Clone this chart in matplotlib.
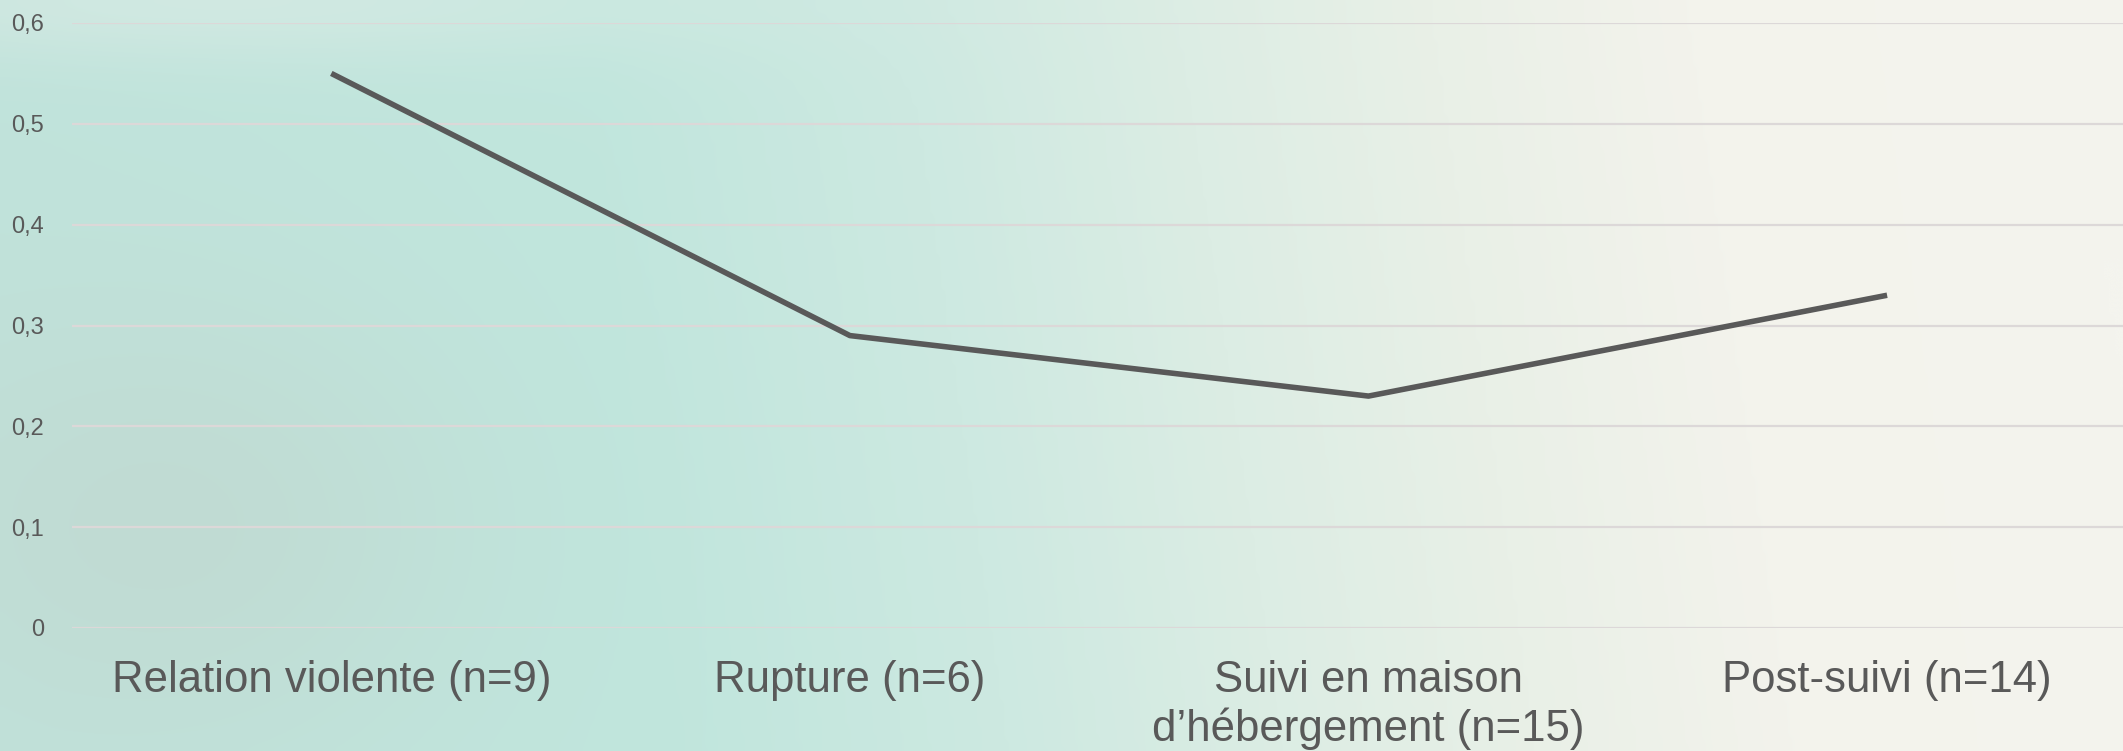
import numpy as np
import matplotlib.pyplot as plt
from matplotlib.colors import LinearSegmentedColormap

categories = ["Relation violente (n=9)", "Rupture (n=6)",
              "Suivi en maison\nd\u2019h\u00e9bergement (n=15)", "Post-suivi (n=14)"]
values = [0.55, 0.29, 0.23, 0.33]
yticks = [0, 0.1, 0.2, 0.3, 0.4, 0.5, 0.6]
ytick_labels = ["0", "0,1", "0,2", "0,3", "0,4", "0,5", "0,6"]

TEXT = "#595959"
W, H = 2123, 751

plt.rcParams['font.family'] = ['Liberation Sans', 'DejaVu Sans']

fig = plt.figure(figsize=(W / 100, H / 100), dpi=100)

# watercolour-like background: teal on the left fading to cream on the right
bg = fig.add_axes([0, 0, 1, 1], zorder=0)
xx = np.linspace(0, 1, 400)
yy = np.linspace(0, 1, 150)[:, None]
cmap = LinearSegmentedColormap.from_list(
    "wash", [(0.0, "#c0e3db"), (0.30, "#c1e6dd"), (0.45, "#cde9e1"),
             (0.58, "#dcede4"), (0.70, "#e9f0e7"), (0.82, "#f3f3ec"), (1.0, "#f4f4ee")])
t = np.clip(xx[None, :] + 0.05 * (yy - 0.5), 0, 1)
img = cmap(t)[..., :3]
# greyish shadow on lower left, lighter top band
shade = np.exp(-((xx[None, :] - 0.08) / 0.14) ** 2 - ((yy - 0.3) / 0.30) ** 2)
img = img * (1 - 0.35 * shade[..., None]) + 0.35 * shade[..., None] * np.array([0.76, 0.80, 0.77])
light = np.exp(-((yy - 1.0) / 0.08) ** 2) * np.exp(-((xx[None, :] - 0.1) / 0.25) ** 2)
img = img * (1 - 0.4 * light[..., None]) + 0.4 * light[..., None] * np.array([0.91, 0.94, 0.92])
bg.imshow(img, aspect='auto', extent=[0, 1, 0, 1], origin='lower', interpolation='bicubic')
bg.set_axis_off()

left = 72 / W
bottom = 1 - 628 / H
top = 1 - 23 / H
ax = fig.add_axes([left, bottom, 1 - left, top - bottom], zorder=1)
ax.patch.set_alpha(0)

x = np.arange(len(categories))
ax.plot(x, values, color=TEXT, linewidth=4, solid_capstyle='butt', zorder=3)

step = 518.6
ax.set_xlim(-0.5, -0.5 + (W - 72) / step)
ax.set_ylim(0, 0.6)
ax.set_yticks(yticks)
ax.set_yticklabels(ytick_labels)
ax.set_xticks(x)
ax.set_xticklabels(categories, linespacing=1.2)

ax.grid(axis='y', color='#dcd8d8', linewidth=1.6, zorder=1)
ax.set_axisbelow(True)
for s in ax.spines.values():
    s.set_visible(False)
ax.tick_params(axis='both', length=0)
ax.tick_params(axis='y', labelsize=17, labelcolor=TEXT, pad=20)
ax.tick_params(axis='x', labelsize=31.5, labelcolor=TEXT, pad=23)

fig.savefig("out.png", dpi=100)
